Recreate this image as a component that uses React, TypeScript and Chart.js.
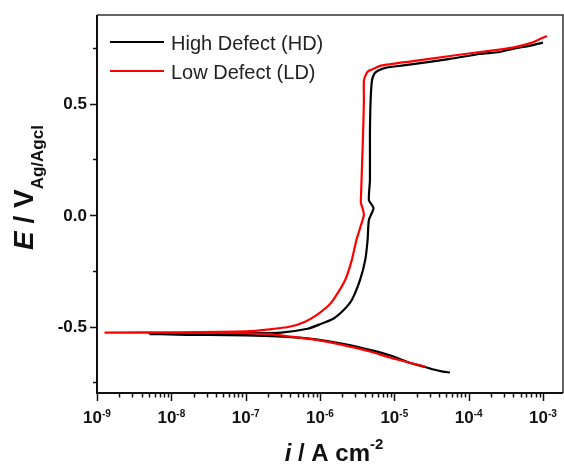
import React, { useEffect, useRef } from "react";
import { Chart, registerables } from "chart.js";

Chart.register(...registerables);

// ---- Data (current density in A cm^-2, potential in V vs Ag/AgCl) ----
const seriesLabels = ["High Defect (HD)", "Low Defect (LD)"];
const seriesColors = ["#000000", "#ff0000"];

const hdCurrent = [
  5.6e-5, 4.5e-5, 3.5e-5, 2.5e-5, 1.6e-5, 8.9e-6, 5.0e-6, 2.5e-6, 1.26e-6, 6.3e-7, 3.2e-7, 1.0e-7, 3.2e-8, 5.1e-9,
  3.2e-8, 1.0e-7, 3.0e-7, 6.8e-7, 1.0e-6, 1.51e-6, 2.1e-6, 2.69e-6, 3.47e-6, 4.07e-6, 4.37e-6, 4.55e-6, 5.25e-6,
  4.55e-6, 4.7e-6, 4.7e-6, 4.8e-6, 5.0e-6, 5.4e-6, 6.0e-6, 7.8e-6, 1.0e-5, 1.78e-5, 5.6e-5, 1.41e-4, 2.6e-4,
  4.2e-4, 6.8e-4, 1.0e-3,
];
const hdPotential = [
  -0.706, -0.702, -0.694, -0.68, -0.662, -0.63, -0.607, -0.583, -0.565, -0.552, -0.545, -0.54, -0.538, -0.534,
  -0.533, -0.53, -0.527, -0.51, -0.49, -0.465, -0.425, -0.38, -0.29, -0.2, -0.112, -0.022, 0.031,
  0.067, 0.156, 0.366, 0.513, 0.603, 0.634, 0.647, 0.661, 0.666, 0.677, 0.7, 0.722, 0.731,
  0.747, 0.76, 0.773,
];

const ldCurrent = [
  2.6e-5, 2.0e-5, 8.9e-6, 5.0e-6, 1.86e-6, 8.9e-7, 4.0e-7, 2.1e-7, 1.0e-7, 3.2e-8, 1.3e-9,
  1.0e-8, 1.0e-7, 2.1e-7, 4.0e-7, 6.3e-7, 8.9e-7, 1.26e-6, 1.51e-6, 2.19e-6, 2.69e-6, 3.09e-6, 3.4e-6,
  3.9e-6, 3.8e-6, 3.55e-6, 3.55e-6, 3.8e-6, 3.9e-6, 3.9e-6, 4.2e-6, 4.55e-6, 5.25e-6, 6.6e-6, 1.78e-5, 5.6e-5,
  1.41e-4, 2.6e-4, 4.2e-4, 6.8e-4, 9.1e-4, 1.13e-3,
];
const ldPotential = [
  -0.679, -0.67, -0.64, -0.614, -0.58, -0.56, -0.545, -0.534, -0.53, -0.528, -0.527,
  -0.526, -0.522, -0.513, -0.5, -0.478, -0.45, -0.41, -0.38, -0.29, -0.2, -0.112, -0.067,
  0.0, 0.022, 0.054, 0.067, 0.366, 0.513, 0.603, 0.634, 0.647, 0.656, 0.67, 0.69, 0.713,
  0.731, 0.742, 0.753, 0.771, 0.789, 0.803,
];

// ---- Axes ----
const xMin = 1e-9;
const xMax = 1.86e-3;
const yMin = -0.798;
const yMax = 0.897;
const xMajorExponents = [-9, -8, -7, -6, -5, -4, -3];
const xMinorMultipliers = [2, 3, 4, 5, 6, 7, 8, 9];
const yMajorTicks = [-0.5, 0.0, 0.5];
const yMinorTicks = [-0.75, -0.25, 0.25, 0.75];

const FONT = "'Liberation Sans', Arial, Helvetica, sans-serif";

const toPoints = (xs: number[], ys: number[]) => xs.map((x, i) => ({ x, y: ys[i] }));

const decorPlugin = {
  id: "decor",
  afterDraw(chart: any) {
    const { ctx, chartArea: a, scales } = chart;
    const xs = scales.x;
    const ys = scales.y;
    ctx.save();

    // frame: top & right
    ctx.strokeStyle = "#333333";
    ctx.lineWidth = 1.5;
    ctx.beginPath();
    ctx.moveTo(a.left, a.top);
    ctx.lineTo(a.right, a.top);
    ctx.lineTo(a.right, a.bottom);
    ctx.stroke();
    // axes: left & bottom
    ctx.strokeStyle = "#111111";
    ctx.lineWidth = 2;
    ctx.beginPath();
    ctx.moveTo(a.left, a.top);
    ctx.lineTo(a.left, a.bottom);
    ctx.lineTo(a.right, a.bottom);
    ctx.stroke();

    // y ticks
    ctx.lineWidth = 1.5;
    for (const v of yMajorTicks) {
      const y = Math.round(ys.getPixelForValue(v)) + 0.5;
      ctx.beginPath();
      ctx.moveTo(a.left - 7, y);
      ctx.lineTo(a.left, y);
      ctx.stroke();
    }
    for (const v of yMinorTicks) {
      const y = Math.round(ys.getPixelForValue(v)) + 0.5;
      ctx.beginPath();
      ctx.moveTo(a.left - 4, y);
      ctx.lineTo(a.left, y);
      ctx.stroke();
    }
    ctx.fillStyle = "#111111";
    ctx.font = `bold 17px ${FONT}`;
    ctx.textAlign = "right";
    ctx.textBaseline = "middle";
    for (const v of yMajorTicks) {
      ctx.fillText(v.toFixed(1), a.left - 10, ys.getPixelForValue(v) + 1);
    }

    // x ticks
    for (const e of xMajorExponents) {
      const x = Math.round(xs.getPixelForValue(Math.pow(10, e))) + 0.5;
      ctx.beginPath();
      ctx.moveTo(x, a.bottom);
      ctx.lineTo(x, a.bottom + 8);
      ctx.stroke();
      for (const m of xMinorMultipliers) {
        const val = m * Math.pow(10, e);
        if (val > xMax) continue;
        const xm = Math.round(xs.getPixelForValue(val)) + 0.5;
        ctx.beginPath();
        ctx.moveTo(xm, a.bottom);
        ctx.lineTo(xm, a.bottom + 4.5);
        ctx.stroke();
      }
    }
    ctx.textAlign = "left";
    ctx.textBaseline = "alphabetic";
    for (const e of xMajorExponents) {
      const x = xs.getPixelForValue(Math.pow(10, e));
      ctx.font = `bold 17px ${FONT}`;
      const base = "10";
      const wb = ctx.measureText(base).width;
      ctx.font = `bold 10px ${FONT}`;
      const sup = `-${Math.abs(e)}`;
      const ws = ctx.measureText(sup).width;
      const x0 = x - (wb + ws) / 2;
      ctx.font = `bold 17px ${FONT}`;
      ctx.fillText(base, x0, a.bottom + 30);
      ctx.font = `bold 10px ${FONT}`;
      ctx.fillText(sup, x0 + wb, a.bottom + 24);
    }

    // x title: i / A cm^-2
    {
      const parts = [
        { t: "i", f: `italic bold 24px ${FONT}`, dy: 0 },
        { t: " / A cm", f: `bold 24px ${FONT}`, dy: 0 },
        { t: "-2", f: `bold 15px ${FONT}`, dy: -12 },
      ];
      let total = 0;
      for (const p of parts) {
        ctx.font = p.f;
        total += ctx.measureText(p.t).width;
      }
      let cx = (a.left + a.right) / 2 + 4 - total / 2;
      const by = 461;
      for (const p of parts) {
        ctx.font = p.f;
        ctx.fillText(p.t, cx, by + p.dy);
        cx += ctx.measureText(p.t).width;
      }
    }

    // y title: E / V_Ag/Agcl
    {
      ctx.save();
      ctx.translate(33, 250);
      ctx.rotate(-Math.PI / 2);
      const parts = [
        { t: "E", f: `italic bold 28px ${FONT}`, dy: 0 },
        { t: " / V", f: `bold 28px ${FONT}`, dy: 0 },
        { t: "Ag/Agcl", f: `bold 17px ${FONT}`, dy: 10 },
      ];
      let cx = 0;
      for (const p of parts) {
        ctx.font = p.f;
        ctx.fillText(p.t, cx, p.dy);
        cx += ctx.measureText(p.t).width;
      }
      ctx.restore();
    }

    // legend
    const ds = chart.data.datasets;
    const rows = [42, 71];
    ds.forEach((d: any, i: number) => {
      const y = rows[i];
      ctx.strokeStyle = d.borderColor;
      ctx.lineWidth = 2;
      ctx.beginPath();
      ctx.moveTo(a.left + 13, y);
      ctx.lineTo(a.left + 67, y);
      ctx.stroke();
      ctx.fillStyle = "#222222";
      ctx.font = `20px ${FONT}`;
      ctx.textAlign = "left";
      ctx.textBaseline = "alphabetic";
      ctx.fillText(d.label, a.left + 74, y + 8);
    });

    ctx.restore();
  },
};

export default function App() {
  const canvasRef = useRef<HTMLCanvasElement | null>(null);

  useEffect(() => {
    const canvas = canvasRef.current;
    if (!canvas) return;
    const chart = new Chart(canvas, {
      type: "scatter",
      data: {
        datasets: [
          {
            label: seriesLabels[0],
            data: toPoints(hdCurrent, hdPotential),
            borderColor: seriesColors[0],
            backgroundColor: seriesColors[0],
            borderWidth: 2.2,
            showLine: true,
            pointRadius: 0,
            tension: 0.2,
            order: 1,
          },
          {
            label: seriesLabels[1],
            data: toPoints(ldCurrent, ldPotential),
            borderColor: seriesColors[1],
            backgroundColor: seriesColors[1],
            borderWidth: 2.2,
            showLine: true,
            pointRadius: 0,
            tension: 0.2,
            order: 0,
          },
        ],
      },
      options: {
        responsive: false,
        animation: false,
        events: [],
        layout: { padding: { left: 97, right: 1, top: 15, bottom: 71 } },
        plugins: {
          legend: { display: false },
          tooltip: { enabled: false },
        },
        scales: {
          x: { type: "logarithmic", min: xMin, max: xMax, display: false, bounds: "data" },
          y: { type: "linear", min: yMin, max: yMax, display: false, bounds: "data" },
        },
      },
      plugins: [decorPlugin],
    });
    return () => chart.destroy();
  }, []);

  return (
    <div style={{ position: "absolute", left: 0, top: 0, width: 564, height: 464, background: "#ffffff" }}>
      <canvas ref={canvasRef} width={564} height={464} style={{ display: "block" }} />
    </div>
  );
}
